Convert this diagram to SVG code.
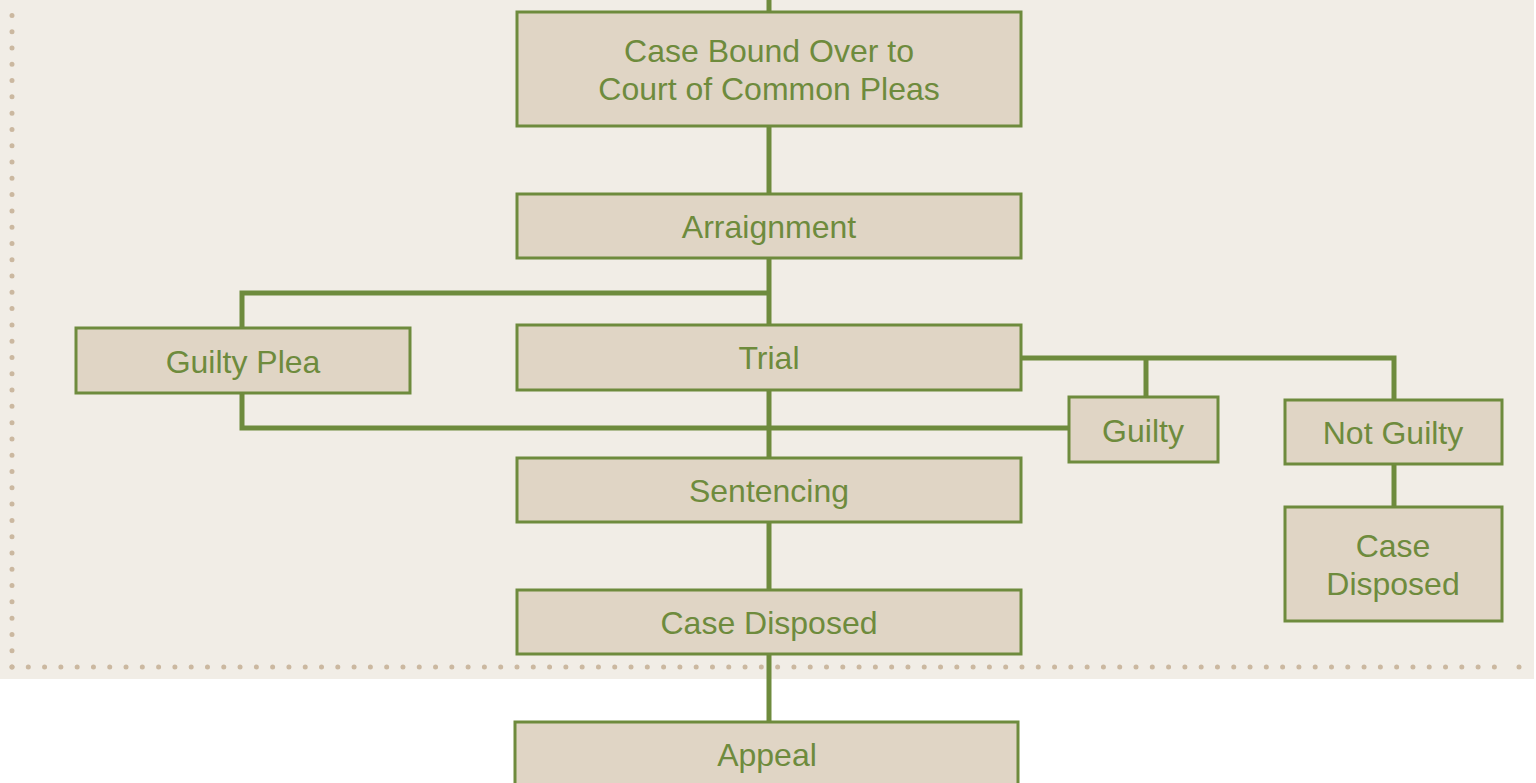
<svg xmlns="http://www.w3.org/2000/svg" width="1536" height="783" viewBox="0 0 1536 783">
<style>
.box{fill:#e0d5c5;stroke:#6e8b3d;stroke-width:3}
.lbl{font-family:"Liberation Sans",Arial,sans-serif;font-size:32px;fill:#6e8b3d;text-anchor:middle}
.con{fill:none;stroke:#6e8b3d;stroke-width:5}
.dots{fill:none;stroke:#cbb8a0;stroke-width:5;stroke-linecap:round;stroke-dasharray:0 16.29}
</style>
<rect x="0" y="0" width="1534" height="679" fill="#f1ede6"/>
<g id="border">
<path class="dots" d="M12 667 V0"/>
<path class="dots" d="M12 667 H1500"/>
<circle cx="1519" cy="667" r="2.5" fill="#cbb8a0"/>
</g>
<g id="connectors">
<path class="con" d="M769 0 V12"/>
<path class="con" d="M769 126 V194"/>
<path class="con" d="M769 258 V325"/>
<path class="con" d="M769 293 H242 V328"/>
<path class="con" d="M1021 358 H1394 V400"/>
<path class="con" d="M1146 358 V397"/>
<path class="con" d="M242 393 V428 H1069"/>
<path class="con" d="M769 390 V458"/>
<path class="con" d="M1394 464 V507"/>
<path class="con" d="M769 522 V590"/>
<path class="con" d="M769 654 V722"/>
</g>
<g id="n-bound"><rect class="box" x="517" y="12" width="504" height="114"/><text class="lbl" x="769" y="62">Case Bound Over to</text><text class="lbl" x="769" y="100">Court of Common Pleas</text></g>
<g id="n-arraignment"><rect class="box" x="517" y="194" width="504" height="64"/><text class="lbl" x="769" y="238">Arraignment</text></g>
<g id="n-guiltyplea"><rect class="box" x="76" y="328" width="334" height="65"/><text class="lbl" x="243" y="373">Guilty Plea</text></g>
<g id="n-trial"><rect class="box" x="517" y="325" width="504" height="65"/><text class="lbl" x="769" y="369">Trial</text></g>
<g id="n-guilty"><rect class="box" x="1069" y="397" width="149" height="65"/><text class="lbl" x="1143" y="442">Guilty</text></g>
<g id="n-notguilty"><rect class="box" x="1285" y="400" width="217" height="64"/><text class="lbl" x="1393" y="444">Not Guilty</text></g>
<g id="n-disposed2"><rect class="box" x="1285" y="507" width="217" height="114"/><text class="lbl" x="1393" y="557">Case</text><text class="lbl" x="1393" y="595">Disposed</text></g>
<g id="n-sentencing"><rect class="box" x="517" y="458" width="504" height="64"/><text class="lbl" x="769" y="502">Sentencing</text></g>
<g id="n-disposed"><rect class="box" x="517" y="590" width="504" height="64"/><text class="lbl" x="769" y="634">Case Disposed</text></g>
<g id="n-appeal"><rect class="box" x="515" y="722" width="503" height="80"/><text class="lbl" x="767" y="766">Appeal</text></g>
</svg>
